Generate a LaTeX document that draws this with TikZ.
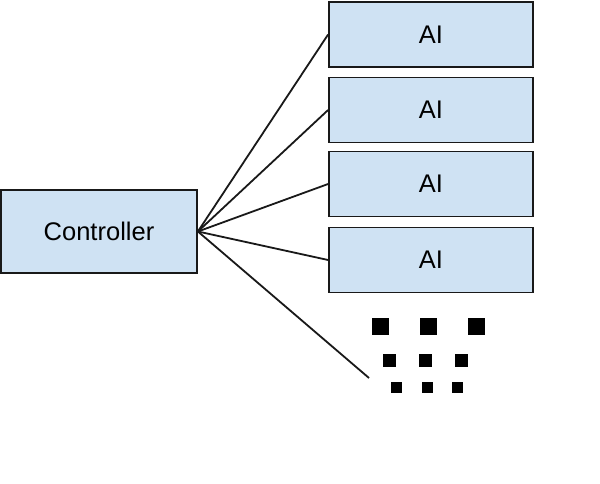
\documentclass[tikz,border=0pt]{standalone}
\usepackage{fontspec}
\setmainfont{Liberation Sans}
\definecolor{boxblue}{HTML}{CFE2F3}
\begin{document}
\begin{tikzpicture}[x=1pt,y=-1pt,
  box/.style={draw=black!90,fill=boxblue,line width=1.8pt,inner sep=0pt,font=\fontsize{25.5}{30}\selectfont},
  ctrlbox/.style={box,minimum width=196pt,minimum height=83pt},
  aibox/.style={box,minimum width=204pt,minimum height=65pt},
  link/.style={draw=black!90,line width=1.8pt},
  dotA/.style={fill=black,inner sep=0pt,minimum size=17pt},
  dotB/.style={fill=black,inner sep=0pt,minimum size=13pt},
  dotC/.style={fill=black,inner sep=0pt,minimum size=11pt}]
\useasboundingbox (0,0) rectangle (600,484);
\node[ctrlbox] (ctrl) at (99,231.5) {Controller};
\node[aibox] (ai1) at (431,34.5) {AI};
\node[aibox] (ai2) at (431,110) {AI};
\node[aibox] (ai3) at (431,184) {AI};
\node[aibox] (ai4) at (431,260) {AI};
\coordinate (more) at (369,378);
\draw[link] (ctrl.east) -- (ai1.west);
\draw[link] (ctrl.east) -- (ai2.west);
\draw[link] (ctrl.east) -- (ai3.west);
\draw[link] (ctrl.east) -- (ai4.west);
\draw[link] (ctrl.east) -- (more);
\node[dotA] (d11) at (380,326) {};
\node[dotA] (d12) at (428,326) {};
\node[dotA] (d13) at (476,326) {};
\node[dotB] (d21) at (389,360) {};
\node[dotB] (d22) at (425,360) {};
\node[dotB] (d23) at (461,360) {};
\node[dotC] (d31) at (396,387) {};
\node[dotC] (d32) at (427,387) {};
\node[dotC] (d33) at (457,387) {};
\end{tikzpicture}
\end{document}
